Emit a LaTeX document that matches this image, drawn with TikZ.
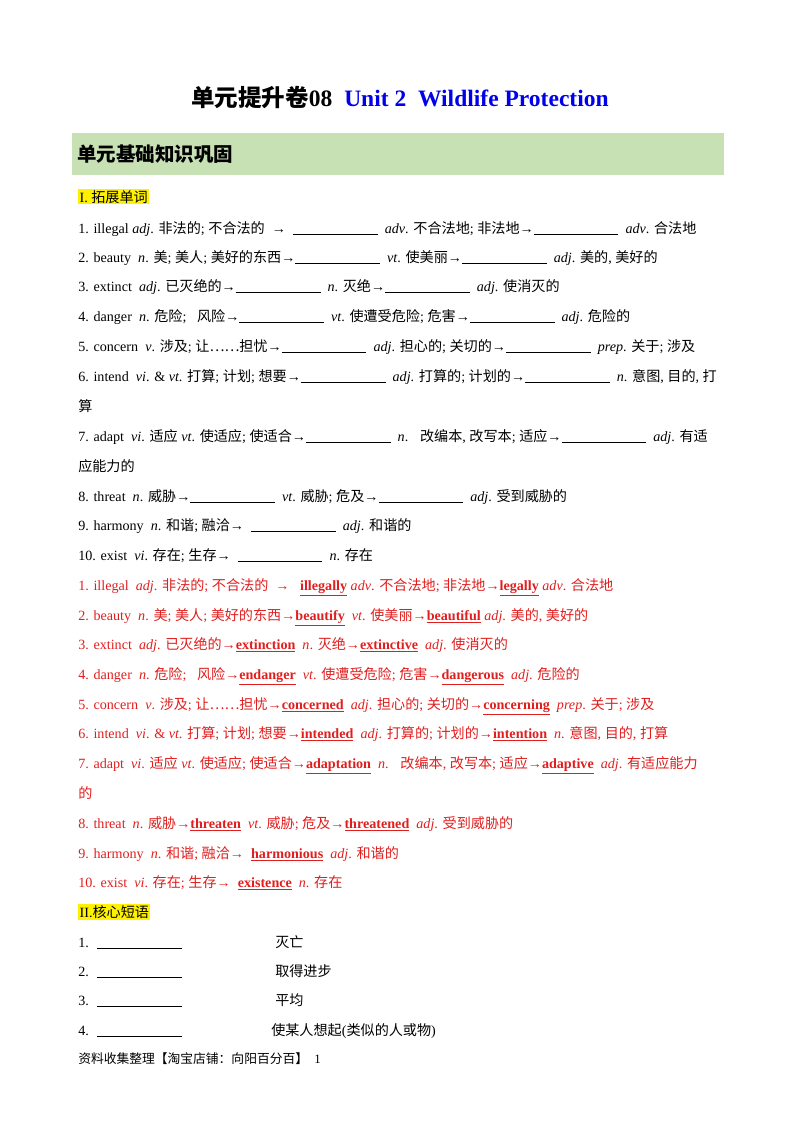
\documentclass[tikz,border=0pt]{standalone}
\usepackage{fontspec}
\setmainfont{Liberation Serif}
\newfontfamily\cjk{Noto Sans CJK SC}
\makeatletter
\XeTeXinterchartokenstate=1
\newXeTeXintercharclass\cjkclass
\count@="4E00 \loop\ifnum\count@<"A000 \XeTeXcharclass\count@=\cjkclass \advance\count@ 1 \repeat
\count@="3000 \loop\ifnum\count@<"3040 \XeTeXcharclass\count@=\cjkclass \advance\count@ 1 \repeat
\count@="FF00 \loop\ifnum\count@<"FF60 \XeTeXcharclass\count@=\cjkclass \advance\count@ 1 \repeat
\XeTeXcharclass"2026=\cjkclass
\makeatother
\XeTeXinterchartoks 0 \cjkclass = {\begingroup\cjk}
\XeTeXinterchartoks 4095 \cjkclass = {\begingroup\cjk}
\XeTeXinterchartoks \cjkclass 0 = {\endgroup}
\XeTeXinterchartoks \cjkclass 4095 = {\endgroup}
\definecolor{ans}{RGB}{225,30,30}
\definecolor{ttl}{RGB}{0,0,235}
\definecolor{band}{RGB}{200,225,180}
\newcommand\bl{\rule[-1.5pt]{63pt}{0.4pt}}
\newcommand\an[1]{\underline{\textbf{#1}}}
\tikzset{ln/.style={anchor=base west,inner sep=0pt,font=\fontsize{10.5pt}{12pt}\selectfont},
 rl/.style={ln,text=ans}}
\begin{document}
\begin{tikzpicture}[x=0.744pt,y=-0.744pt]
\useasboundingbox (0,0) rectangle (800,1132);
\node[anchor=base,inner sep=0pt,font=\fontsize{17.5pt}{19pt}\selectfont\bfseries] (t) at (400,106) {单元提升卷08\ \ \textcolor{ttl}{Unit 2\ \ Wildlife Protection}};
\fill[band] (72,133) rectangle (724,175);
\node[ln,font=\fontsize{14.5pt}{16pt}\selectfont\bfseries] (h1) at (77,161) {单元基础知识巩固};
\node[ln,fill=yellow,inner sep=1pt] (s1) at (78,202) {I. 拓展单词};
\node[ln] (q1) at (78,233) {1. illegal \textit{adj}. 非法的; 不合法的 \ → \ \bl\ \ \textit{adv}. 不合法地; 非法地→\bl\ \ \textit{adv}. 合法地};
\node[ln] (q2) at (78,262) {2. beauty \ \textit{n}. 美; 美人; 美好的东西→\bl\ \ \textit{vt}. 使美丽→\bl\ \ \textit{adj}. 美的, 美好的};
\node[ln] (q3) at (78,291) {3. extinct \ \textit{adj}. 已灭绝的→\bl\ \ \textit{n}. 灭绝→\bl\ \ \textit{adj}. 使消灭的};
\node[ln] (q4) at (78,321) {4. danger \ \textit{n}. 危险; \ \ 风险→\bl\ \ \textit{vt}. 使遭受危险; 危害→\bl\ \ \textit{adj}. 危险的};
\node[ln] (q5) at (78,351) {5. concern \ \textit{v}. 涉及; 让……担忧→\bl\ \ \textit{adj}. 担心的; 关切的→\bl\ \ \textit{prep}. 关于; 涉及};
\node[ln] (q6) at (78,381) {6. intend \ \textit{vi}. \& \textit{vt}. 打算; 计划; 想要→\bl\ \ \textit{adj}. 打算的; 计划的→\bl\ \ \textit{n}. 意图, 目的, 打};
\node[ln] (q6b) at (78,411) {算};
\node[ln] (q7) at (78,441) {7. adapt \ \textit{vi}. 适应 \textit{vt}. 使适应; 使适合→\bl\ \ \textit{n}. \ \ 改编本, 改写本; 适应→\bl\ \ \textit{adj}. 有适};
\node[ln] (q7b) at (78,471) {应能力的};
\node[ln] (q8) at (78,501) {8. threat \ \textit{n}. 威胁→\bl\ \ \textit{vt}. 威胁; 危及→\bl\ \ \textit{adj}. 受到威胁的};
\node[ln] (q9) at (78,530) {9. harmony \ \textit{n}. 和谐; 融洽→ \ \bl\ \ \textit{adj}. 和谐的};
\node[ln] (q10) at (78,560) {10. exist \ \textit{vi}. 存在; 生存→ \ \bl\ \ \textit{n}. 存在};
\node[rl] (a1) at (78,590) {1. illegal \ \textit{adj}. 非法的; 不合法的 \ → \ \ \an{illegally} \textit{adv}. 不合法地; 非法地→\an{legally} \textit{adv}. 合法地};
\node[rl] (a2) at (78,620) {2. beauty \ \textit{n}. 美; 美人; 美好的东西→\an{beautify} \ \textit{vt}. 使美丽→\an{beautiful} \textit{adj}. 美的, 美好的};
\node[rl] (a3) at (78,649) {3. extinct \ \textit{adj}. 已灭绝的→\an{extinction} \ \textit{n}. 灭绝→\an{extinctive} \ \textit{adj}. 使消灭的};
\node[rl] (a4) at (78,679) {4. danger \ \textit{n}. 危险; \ \ 风险→\an{endanger} \ \textit{vt}. 使遭受危险; 危害→\an{dangerous} \ \textit{adj}. 危险的};
\node[rl] (a5) at (78,709) {5. concern \ \textit{v}. 涉及; 让……担忧→\an{concerned} \ \textit{adj}. 担心的; 关切的→\an{concerning} \ \textit{prep}. 关于; 涉及};
\node[rl] (a6) at (78,738) {6. intend \ \textit{vi}. \& \textit{vt}. 打算; 计划; 想要→\an{intended} \ \textit{adj}. 打算的; 计划的→\an{intention} \ \textit{n}. 意图, 目的, 打算};
\node[rl] (a7) at (78,768) {7. adapt \ \textit{vi}. 适应 \textit{vt}. 使适应; 使适合→\an{adaptation} \ \textit{n}. \ \ 改编本, 改写本; 适应→\an{adaptive} \ \textit{adj}. 有适应能力};
\node[rl] (a7b) at (78,798) {的};
\node[rl] (a8) at (78,828) {8. threat \ \textit{n}. 威胁→\an{threaten} \ \textit{vt}. 威胁; 危及→\an{threatened} \ \textit{adj}. 受到威胁的};
\node[rl] (a9) at (78,858) {9. harmony \ \textit{n}. 和谐; 融洽→ \ \an{harmonious} \ \textit{adj}. 和谐的};
\node[rl] (a10) at (78,887) {10. exist \ \textit{vi}. 存在; 生存→ \ \an{existence} \ \textit{n}. 存在};
\node[ln,fill=yellow,inner sep=1pt] (s2) at (78,917) {II.核心短语};
\node[ln] (p1) at (78,947) {1. \ \bl};
\node[ln] (p1c) at (275,947) {灭亡};
\node[ln] (p2) at (78,976) {2. \ \bl};
\node[ln] (p2c) at (275,976) {取得进步};
\node[ln] (p3) at (78,1005) {3. \ \bl};
\node[ln] (p3c) at (275,1005) {平均};
\node[ln] (p4) at (78,1035) {4. \ \bl};
\node[ln] (p4c) at (271,1035) {使某人想起(类似的人或物)};
\node[ln,font=\fontsize{9.5pt}{11pt}\selectfont] (ft) at (78,1063) {资料收集整理【淘宝店铺：向阳百分百】 \ 1};
\end{tikzpicture}
\end{document}
